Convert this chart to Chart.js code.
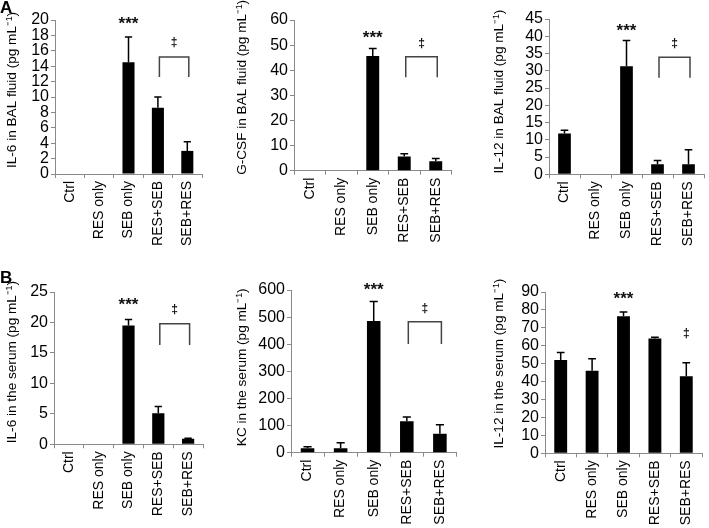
<!DOCTYPE html>
<html><head><meta charset="utf-8">
<script src="https://cdn.jsdelivr.net/npm/chart.js@4.4.1/dist/chart.umd.min.js"></script>
<style>
html,body{margin:0;padding:0;background:#fff;}
body{width:709px;height:528px;position:relative;overflow:hidden;font-family:'Liberation Sans',Arial,sans-serif;}
canvas{position:absolute;display:block;}
.lbl{position:absolute;font-weight:bold;font-size:17px;line-height:17px;color:#000;z-index:2;}
</style></head><body>
<div class="lbl" style="left:0;top:-1px">A</div>
<div class="lbl" style="left:0;top:269px">B</div>
<canvas id="c0" width="230" height="265" style="left:0;top:0"></canvas>
<canvas id="c1" width="230" height="265" style="left:230px;top:0"></canvas>
<canvas id="c2" width="249" height="265" style="left:460px;top:0"></canvas>
<canvas id="c3" width="230" height="263" style="left:0;top:265px"></canvas>
<canvas id="c4" width="230" height="263" style="left:230px;top:265px"></canvas>
<canvas id="c5" width="249" height="263" style="left:460px;top:265px"></canvas>
<script>
// ---------- data ----------
const CATEGORIES = ["Ctrl", "RES only", "SEB only", "RES+SEB", "SEB+RES"];

const IL6_BAL      = [0, 0, 14.5, 8.6, 3.0];
const IL6_BAL_ERR  = [null, null, 3.3, 1.4, 1.2];
const GCSF_BAL     = [0, 0, 45.7, 5.7, 3.8];
const GCSF_BAL_ERR = [null, null, 3.0, 1.0, 1.1];
const IL12_BAL     = [11.8, 0, 31.3, 2.9, 2.9];
const IL12_BAL_ERR = [1.0, null, 7.5, 1.1, 4.2];
const IL6_SER      = [0, 0, 19.5, 5.1, 0.9];
const IL6_SER_ERR  = [null, null, 1.0, 1.1, 0.1];
const KC_SER       = [16, 16, 486, 116, 70];
const KC_SER_ERR   = [6, 21, 72, 16, 33];
const IL12_SER     = [52, 46, 76.5, 64, 43];
const IL12_SER_ERR = [4.2, 6.8, 2.3, 0.8, 7.5];

const Y_TITLES = [
  "IL-6 in BAL fluid (pg mL\u207B\u00B9)",
  "G-CSF in BAL fluid (pg mL\u207B\u00B9)",
  "IL-12 in BAL fluid (pg mL\u207B\u00B9)",
  "IL-6 in the serum (pg mL\u207B\u00B9)",
  "KC in the serum (pg mL\u207B\u00B9)",
  "IL-12 in the serum (pg mL\u207B\u00B9)"
];
const Y_MAX  = [20, 60, 45, 25, 600, 90];
const Y_STEP = [2, 10, 5, 5, 100, 10];

// significance marks (data-space levels)
const STAR_LEVEL   = [20.1, 54.7, 43.0, 23.7, 619, 88.7];   // *** above SEB only
const BRACKET_TOP  = [15.2, 45.4, 33.9, 19.8, 483, null];   // bracket RES+SEB .. SEB+RES
const BRACKET_LEG  = [12.6, 37.2, 28.0, 16.3, 401, null];
const DAGGER_LEVEL = [17.0, 50.7, 37.8, 22.1, 532, 66.8];   // ‡

const SERIES = [IL6_BAL, GCSF_BAL, IL12_BAL, IL6_SER, KC_SER, IL12_SER];
const ERRORS = [IL6_BAL_ERR, GCSF_BAL_ERR, IL12_BAL_ERR, IL6_SER_ERR, KC_SER_ERR, IL12_SER_ERR];

// ---------- layout (canvas box and plot area in page pixels) ----------
const BOXES = [[0,0,230,265],[230,0,230,265],[460,0,249,265],[0,265,230,263],[230,265,230,263],[460,265,249,263]];
const AREAS = [[55,20,202,174],[294,20,451.5,170.7],[549,19,704,174.3],[54,292,203,444.3],[291,290,457,452.7],[545,292,702,453.3]];
const PADLEFT = [0,0,27,0,0,27];
const TITLE_SHIFT = [-7,-8,-5,-6,-4,-9];

const FONT = "'Liberation Sans', Arial, sans-serif";
Chart.defaults.font.family = FONT;
Chart.defaults.color = '#000';
const AXIS = '#8a8a8a';

const annot = {
  id: 'annot',
  afterDatasetsDraw(chart, args, o) {
    const ctx = chart.ctx, ys = chart.scales.y, meta = chart.getDatasetMeta(0);
    const k = o.k;
    const vals = SERIES[k], errs = ERRORS[k];
    ctx.save();
    // error bars (upper only)
    ctx.strokeStyle = '#000'; ctx.lineWidth = 1.5;
    vals.forEach((v, i) => {
      const e = errs[i]; if (e == null) return;
      const bar = meta.data[i]; const x = bar.x; const hw = bar.width * 0.3;
      const yt = ys.getPixelForValue(v + e), yb = ys.getPixelForValue(v);
      ctx.beginPath();
      ctx.moveTo(x, yb); ctx.lineTo(x, yt);
      ctx.moveTo(x - hw, yt); ctx.lineTo(x + hw, yt);
      ctx.stroke();
    });
    // ***
    const sx = meta.data[2].x;
    ctx.fillStyle = '#111';
    ctx.font = 'bold 17px ' + FONT;
    ctx.textAlign = 'center'; ctx.textBaseline = 'alphabetic';
    ctx.fillText('***', sx, ys.getPixelForValue(STAR_LEVEL[k]) + 10);
    // bracket
    let dx;
    if (BRACKET_TOP[k] != null) {
      const x1 = meta.data[3].x + 1.5, x2 = meta.data[4].x + 1.5;
      const yt = ys.getPixelForValue(BRACKET_TOP[k]), yl = ys.getPixelForValue(BRACKET_LEG[k]);
      ctx.strokeStyle = '#444'; ctx.lineWidth = 1.5;
      ctx.beginPath();
      ctx.moveTo(x1, yl); ctx.lineTo(x1, yt); ctx.lineTo(x2, yt); ctx.lineTo(x2, yl);
      ctx.stroke();
      dx = (x1 + x2) / 2;
    } else {
      dx = meta.data[4].x;
    }
    ctx.font = 'bold 12px ' + FONT;
    ctx.textBaseline = 'middle';
    ctx.fillText('\u2021', dx, ys.getPixelForValue(DAGGER_LEVEL[k]));
    // y-axis title
    const ca = chart.chartArea;
    ctx.translate(ys.left + 12.4, (ca.top + ca.bottom) / 2 + TITLE_SHIFT[k]);
    ctx.rotate(-Math.PI / 2);
    ctx.font = '13.6px ' + FONT;
    ctx.fillStyle = '#000';
    ctx.textAlign = 'center'; ctx.textBaseline = 'middle';
    ctx.fillText(Y_TITLES[k], 0, 0);
    ctx.restore();
  }
};

for (let k = 0; k < 6; k++) {
  const [bx, by, bw, bh] = BOXES[k];
  const [al, at, ar, ab] = AREAS[k];
  const yW = al - bx - PADLEFT[k];
  const xH = by + bh - ab;
  new Chart(document.getElementById('c' + k), {
    type: 'bar',
    data: {
      labels: CATEGORIES,
      datasets: [{ data: SERIES[k], backgroundColor: '#000', borderWidth: 0,
                   barPercentage: 0.41, categoryPercentage: 1.0 }]
    },
    options: {
      responsive: false, animation: false, devicePixelRatio: 1,
      layout: { padding: { left: PADLEFT[k], top: at - by, right: bx + bw - ar, bottom: 0 } },
      plugins: { legend: { display: false }, tooltip: { enabled: false }, annot: { k } },
      scales: {
        x: {
          afterFit(s) { s.height = xH; },
          border: { color: AXIS, width: 1 },
          grid: { drawOnChartArea: false, drawTicks: true, tickLength: 4, color: AXIS, offset: true },
          ticks: { autoSkip: false, minRotation: 90, maxRotation: 90, padding: 3, color: '#000',
                   font: { size: 14 } }
        },
        y: {
          min: 0, max: Y_MAX[k],
          afterFit(s) { s.width = yW; },
          border: { color: AXIS, width: 1 },
          grid: { drawOnChartArea: false, drawTicks: true, tickLength: 4, color: AXIS },
          ticks: { stepSize: Y_STEP[k], autoSkip: false, padding: 2, color: '#000', font: { size: 16 } },
          title: { display: false }
        }
      }
    },
    plugins: [annot]
  });
}
</script>
</body></html>
